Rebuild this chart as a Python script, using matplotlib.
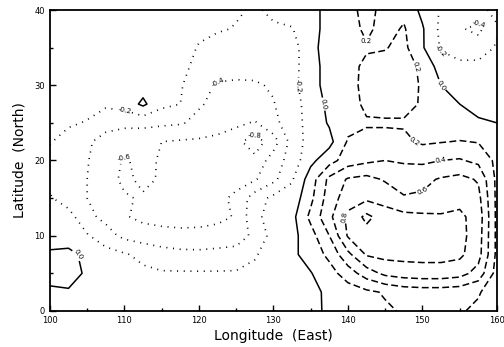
import numpy as np
import matplotlib
matplotlib.use("Agg")
import matplotlib.pyplot as plt

# grid of the field (degrees)
lons = [100, 102.5, 105, 107.5, 110, 112.5, 115, 117.5, 120, 122.5, 125, 127.5, 130,
        132.5, 135, 137.5, 140, 142.5, 145, 147.5, 150, 152.5, 155, 157.5, 160]
lats = [0, 2.5, 5, 7.5, 10, 12.5, 15, 17.5, 20, 22.5, 25, 27.5, 30, 32.5, 35, 37.5, 40]

# values, one row per latitude (west -> east)
lat00 = [-0.05, -0.05, -0.06, -0.08, -0.09, -0.10, -0.11, -0.12, -0.12, -0.11, -0.10, -0.09, -0.08, -0.06, -0.03, 0.02, 0.08, 0.12, 0.17, 0.22, 0.24, 0.24, 0.22, 0.16, 0.06]
lat02 = [-0.03, -0.02, -0.05, -0.08, -0.10, -0.12, -0.13, -0.14, -0.14, -0.13, -0.12, -0.10, -0.08, -0.06, -0.04, 0.03, 0.10, 0.16, 0.22, 0.28, 0.30, 0.30, 0.28, 0.22, 0.08]
lat05 = [0.06, 0.08, -0.03, -0.10, -0.14, -0.16, -0.18, -0.18, -0.18, -0.18, -0.18, -0.15, -0.10, -0.05, -0.01, 0.12, 0.30, 0.50, 0.65, 0.70, 0.72, 0.72, 0.68, 0.52, 0.12]
lat07 = [0.02, 0.05, -0.05, -0.12, -0.18, -0.25, -0.32, -0.35, -0.36, -0.35, -0.32, -0.22, -0.10, -0.04, 0.08, 0.25, 0.55, 0.82, 0.86, 0.86, 0.86, 0.86, 0.84, 0.68, 0.15]
lat10 = [-0.06, -0.10, -0.18, -0.32, -0.45, -0.50, -0.52, -0.53, -0.52, -0.50, -0.50, -0.35, -0.12, -0.06, 0.12, 0.40, 0.82, 0.92, 0.92, 0.90, 0.88, 0.86, 0.86, 0.70, 0.15]
lat12 = [-0.08, -0.12, -0.35, -0.45, -0.58, -0.65, -0.68, -0.70, -0.70, -0.66, -0.58, -0.25, -0.12, -0.06, 0.25, 0.55, 0.85, 1.05, 0.90, 0.86, 0.84, 0.82, 0.84, 0.72, 0.15]
lat15 = [-0.18, -0.30, -0.40, -0.50, -0.58, -0.62, -0.66, -0.68, -0.70, -0.66, -0.55, -0.30, -0.15, -0.12, 0.15, 0.50, 0.70, 0.76, 0.72, 0.62, 0.63, 0.70, 0.74, 0.66, 0.15]
lat17 = [-0.26, -0.33, -0.40, -0.52, -0.64, -0.56, -0.62, -0.66, -0.68, -0.70, -0.68, -0.62, -0.45, -0.22, 0.10, 0.45, 0.62, 0.66, 0.58, 0.50, 0.55, 0.62, 0.66, 0.58, 0.15]
lat20 = [-0.25, -0.33, -0.39, -0.50, -0.62, -0.55, -0.62, -0.65, -0.66, -0.68, -0.70, -0.75, -0.50, -0.32, -0.05, 0.12, 0.30, 0.36, 0.40, 0.38, 0.36, 0.40, 0.42, 0.35, 0.15]
lat22 = [-0.19, -0.26, -0.38, -0.45, -0.50, -0.55, -0.60, -0.62, -0.63, -0.66, -0.75, -0.90, -0.70, -0.32, -0.12, -0.06, 0.22, 0.26, 0.26, 0.24, 0.17, 0.19, 0.21, 0.19, 0.17]
lat25 = [-0.15, -0.18, -0.21, -0.35, -0.36, -0.34, -0.36, -0.38, -0.45, -0.50, -0.55, -0.62, -0.45, -0.30, -0.12, 0.02, 0.14, 0.18, 0.18, 0.18, 0.15, 0.10, 0.05, 0.02, 0.00]
lat27 = [-0.10, -0.12, -0.15, -0.16, -0.12, 0.04, -0.15, -0.20, -0.38, -0.45, -0.46, -0.45, -0.41, -0.28, -0.12, 0.05, 0.12, 0.24, 0.26, 0.26, 0.18, 0.10, 0.00, -0.05, -0.08]
lat30 = [-0.10, -0.10, -0.10, -0.10, -0.08, -0.08, -0.12, -0.18, -0.33, -0.42, -0.43, -0.42, -0.38, -0.25, -0.10, 0.10, 0.14, 0.25, 0.28, 0.28, 0.18, 0.00, -0.10, -0.12, -0.12]
lat32 = [-0.10, -0.10, -0.10, -0.10, -0.10, -0.10, -0.12, -0.16, -0.24, -0.30, -0.33, -0.34, -0.32, -0.26, -0.10, 0.10, 0.14, 0.24, 0.26, 0.26, 0.17, -0.10, -0.15, -0.15, -0.12]
lat35 = [-0.10, -0.10, -0.10, -0.10, -0.10, -0.10, -0.10, -0.14, -0.21, -0.28, -0.32, -0.33, -0.30, -0.26, -0.10, 0.15, 0.14, 0.18, 0.19, 0.25, 0.02, -0.22, -0.30, -0.30, -0.18]
lat37 = [-0.10, -0.10, -0.10, -0.10, -0.10, -0.10, -0.10, -0.13, -0.17, -0.18, -0.21, -0.25, -0.22, -0.21, -0.06, 0.06, 0.12, 0.24, 0.13, 0.22, 0.02, -0.25, -0.38, -0.45, -0.22]
lat40 = [-0.10, -0.10, -0.10, -0.10, -0.10, -0.10, -0.10, -0.12, -0.15, -0.17, -0.18, -0.22, -0.17, -0.12, -0.05, 0.05, 0.12, 0.28, 0.12, 0.15, -0.05, -0.22, -0.30, -0.25, -0.15]

neg_levels = [-0.8, -0.6, -0.4, -0.2]
zero_level = [0.0]
pos_levels = [0.2, 0.4, 0.6, 0.8, 1.0]

field = np.array([lat00, lat02, lat05, lat07, lat10, lat12, lat15, lat17, lat20,
                  lat22, lat25, lat27, lat30, lat32, lat35, lat37, lat40])

fig = plt.figure(figsize=(5.04, 3.47), dpi=100)
ax = fig.add_axes([0.099, 0.104, 0.887, 0.867])

# negative: dotted, zero: solid, positive: dashed
cn = ax.contour(lons, lats, field, levels=neg_levels, colors='black',
                linewidths=1.2, linestyles=[(0, (0.6, 3.4))])
cz = ax.contour(lons, lats, field, levels=zero_level, colors='black',
                linewidths=1.1, linestyles='solid')
cp = ax.contour(lons, lats, field, levels=pos_levels, colors='black',
                linewidths=1.1, linestyles=[(0, (4.5, 2.2))])

for cs in (cn, cz, cp):
    ax.clabel(cs, fmt='%.1f', fontsize=5, inline=True, inline_spacing=1)

ax.set_xlim(100, 160)
ax.set_ylim(0, 40)
ax.set_xticks([100, 110, 120, 130, 140, 150, 160])
ax.set_yticks([0, 10, 20, 30, 40])
ax.set_xticks([105, 115, 125, 135, 145, 155], minor=True)
ax.set_yticks([5, 15, 25, 35], minor=True)
ax.tick_params(which='both', direction='in', labelsize=6, width=1)
ax.tick_params(which='major', length=4)
ax.tick_params(which='minor', length=2.5)
for sp in ax.spines.values():
    sp.set_linewidth(1.3)

ax.set_xlabel("Longitude  (East)", fontsize=10, labelpad=3)
ax.set_ylabel("Latitude  (North)", fontsize=10, labelpad=6)

fig.savefig("out.png", dpi=100)
